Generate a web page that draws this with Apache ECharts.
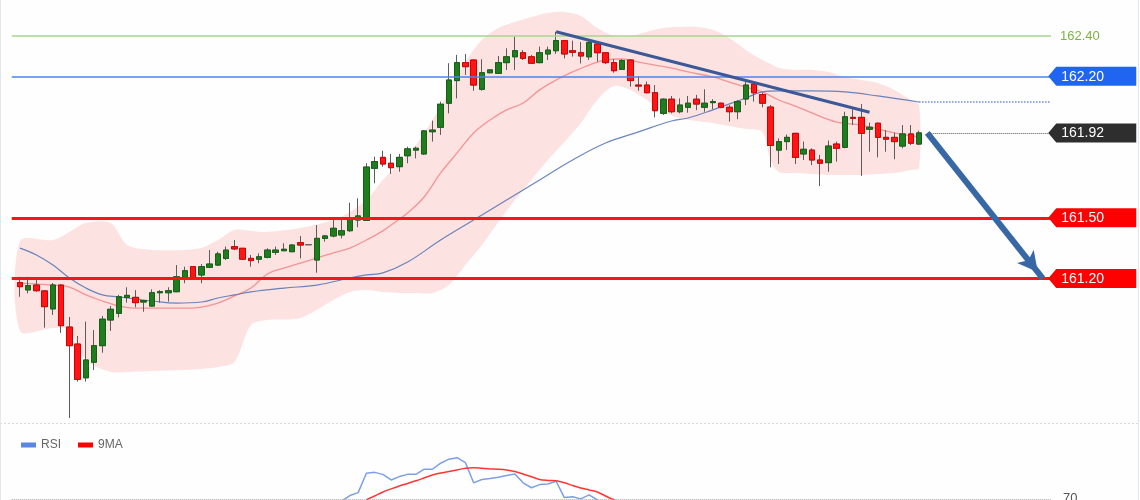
<!DOCTYPE html>
<html>
<head>
<meta charset="utf-8">
<title>Candles with Bollinger band and RSI</title>
<script src="https://cdn.jsdelivr.net/npm/echarts@6.0.0/dist/echarts.min.js"></script>
<style>
  html, body { margin: 0; padding: 0; background: #fefefe; }
  #chart { width: 1140px; height: 500px; }
</style>
</head>
<body>
<div id="chart"></div>
<script>
// ── Data ──────────────────────────────────────────────────────────────────────

// [open, close, low, high], one per bar
const candles = [
  [161.179, 161.159, 161.109, 161.208], [161.143, 161.164, 161.126, 161.208],
  [161.167, 161.139, 161.134, 161.192], [161.138, 161.060, 160.956, 161.142],
  [161.049, 161.167, 161.019, 161.177], [161.167, 160.966, 160.930, 161.172],
  [160.959, 160.867, 160.509, 161.009], [160.875, 160.700, 160.689, 160.915],
  [160.708, 160.796, 160.689, 160.986], [160.785, 160.867, 160.747, 160.944],
  [160.867, 160.998, 160.832, 161.014], [160.994, 161.047, 160.940, 161.063],
  [161.027, 161.109, 161.007, 161.118], [161.106, 161.116, 161.080, 161.156],
  [161.106, 161.080, 161.057, 161.142], [161.083, 161.090, 161.035, 161.093],
  [161.063, 161.129, 161.060, 161.146], [161.129, 161.134, 161.080, 161.142],
  [161.129, 161.139, 161.085, 161.156], [161.134, 161.208, 161.132, 161.266],
  [161.205, 161.238, 161.176, 161.258], [161.258, 161.196, 161.192, 161.261],
  [161.217, 161.258, 161.176, 161.271], [161.255, 161.271, 161.251, 161.340],
  [161.266, 161.321, 161.261, 161.332], [161.299, 161.340, 161.291, 161.357],
  [161.357, 161.346, 161.340, 161.390], [161.349, 161.295, 161.291, 161.350],
  [161.299, 161.288, 161.258, 161.316], [161.295, 161.307, 161.275, 161.324],
  [161.304, 161.340, 161.299, 161.349], [161.329, 161.340, 161.316, 161.357],
  [161.337, 161.344, 161.335, 161.374], [161.332, 161.365, 161.331, 161.370],
  [161.377, 161.365, 161.299, 161.410], [161.367, 161.367, 161.367, 161.367],
  [161.291, 161.398, 161.228, 161.464], [161.398, 161.410, 161.382, 161.415],
  [161.410, 161.448, 161.403, 161.493], [161.415, 161.436, 161.398, 161.489],
  [161.436, 161.493, 161.431, 161.575], [161.489, 161.509, 161.453, 161.596],
  [161.487, 161.751, 161.484, 161.770], [161.745, 161.778, 161.671, 161.802],
  [161.799, 161.766, 161.753, 161.832], [161.770, 161.748, 161.717, 161.816],
  [161.753, 161.799, 161.728, 161.816], [161.807, 161.841, 161.770, 161.852],
  [161.835, 161.844, 161.794, 161.852], [161.816, 161.930, 161.811, 161.934],
  [161.926, 161.934, 161.877, 161.981], [161.948, 162.062, 161.910, 162.075],
  [162.067, 162.182, 162.017, 162.265], [162.179, 162.268, 162.091, 162.306],
  [162.268, 162.248, 162.207, 162.311], [162.281, 162.157, 162.129, 162.283],
  [162.136, 162.218, 162.129, 162.285], [162.218, 162.232, 162.215, 162.234],
  [162.215, 162.268, 162.212, 162.301], [162.268, 162.297, 162.232, 162.339],
  [162.297, 162.327, 162.232, 162.396], [162.317, 162.289, 162.281, 162.330],
  [162.297, 162.265, 162.261, 162.306], [162.268, 162.317, 162.265, 162.347],
  [162.311, 162.330, 162.281, 162.347], [162.327, 162.377, 162.311, 162.421],
  [162.377, 162.311, 162.289, 162.380], [162.327, 162.319, 162.298, 162.377],
  [162.317, 162.301, 162.264, 162.370], [162.297, 162.367, 162.281, 162.378],
  [162.360, 162.317, 162.273, 162.367], [162.317, 162.268, 162.261, 162.320],
  [162.268, 162.228, 162.218, 162.285], [162.235, 162.278, 162.232, 162.285],
  [162.281, 162.179, 162.149, 162.285], [162.157, 162.152, 162.129, 162.202],
  [162.157, 162.119, 162.116, 162.174], [162.119, 162.030, 161.997, 162.157],
  [162.017, 162.087, 162.009, 162.091], [162.087, 162.025, 162.017, 162.103],
  [162.025, 162.058, 162.017, 162.091], [162.047, 162.067, 162.020, 162.103],
  [162.087, 162.063, 162.033, 162.108], [162.047, 162.067, 162.025, 162.136],
  [162.070, 162.075, 162.037, 162.087], [162.067, 162.047, 162.042, 162.070],
  [162.047, 162.025, 161.976, 162.058], [162.025, 162.075, 161.988, 162.083],
  [162.088, 162.157, 162.058, 162.174], [162.162, 162.119, 162.075, 162.174],
  [162.110, 162.067, 162.047, 162.119], [162.048, 161.858, 161.750, 162.058],
  [161.835, 161.877, 161.766, 161.893], [161.877, 161.898, 161.835, 161.912],
  [161.918, 161.799, 161.766, 161.920], [161.816, 161.839, 161.786, 161.877],
  [161.835, 161.786, 161.761, 161.844], [161.786, 161.770, 161.657, 161.811],
  [161.773, 161.855, 161.728, 161.882], [161.865, 161.844, 161.778, 161.877],
  [161.849, 162.000, 161.844, 162.025], [161.997, 161.992, 161.959, 162.037],
  [161.997, 161.918, 161.707, 162.063], [161.938, 161.948, 161.827, 161.971],
  [161.968, 161.898, 161.799, 161.971], [161.898, 161.889, 161.827, 161.934],
  [161.898, 161.877, 161.790, 161.921], [161.855, 161.915, 161.844, 161.959],
  [161.915, 161.869, 161.860, 161.959], [161.865, 161.920, 161.860, 161.931],
];

// Bollinger band edges, read at these bar indices
const bandBars = [0, 4, 6, 8, 11, 13, 16, 20, 22, 24, 26, 28, 30, 34, 38, 40, 42, 44, 46, 48,
  50, 52, 54, 56, 58, 60, 62, 64, 66, 68, 70, 72, 74, 76, 78, 80, 82, 84, 86, 88,
  90, 91, 92, 94, 96, 98, 100, 102, 104, 106, 108, 109];
const bandUpper = [161.385, 161.390, 161.430, 161.474, 161.474, 161.365, 161.341, 161.341, 161.350, 161.390,
  161.440, 161.435, 161.430, 161.449, 161.489, 161.529, 161.588, 161.687, 161.771, 161.860,
  161.984, 162.123, 162.271, 162.380, 162.439, 162.469, 162.494, 162.514, 162.519, 162.499,
  162.439, 162.400, 162.400, 162.420, 162.439, 162.444, 162.444, 162.430, 162.390, 162.331,
  162.281, 162.261, 162.241, 162.232, 162.232, 162.222, 162.197, 162.182, 162.167, 162.133,
  162.083, 162.058];
const bandLower = [160.940, 160.954, 160.945, 160.796, 160.737, 160.737, 160.742, 160.747, 160.752, 160.761,
  160.786, 160.969, 160.994, 161.004, 161.093, 161.133, 161.143, 161.133, 161.128, 161.128,
  161.128, 161.167, 161.266, 161.365, 161.479, 161.588, 161.687, 161.786, 161.875, 161.969,
  162.083, 162.152, 162.133, 162.083, 162.024, 161.994, 161.979, 161.969, 161.954, 161.939,
  161.925, 161.786, 161.727, 161.722, 161.717, 161.712, 161.712, 161.712, 161.717, 161.722,
  161.737, 161.746];

// band middle line (red) and slow average (blue)
const midBars = [0, 4, 6, 8, 10, 12, 14, 20, 22, 24, 26, 28, 30, 32, 34, 36, 38, 40, 42, 44,
  46, 47, 49, 51, 53, 55, 57, 59, 61, 63, 65, 67, 69, 71, 73, 75, 77, 79, 81, 84,
  86, 88, 90, 92, 94, 96, 99, 102, 106, 109];
const midValues = [161.177, 161.167, 161.157, 161.118, 161.088, 161.063, 161.053, 161.053, 161.058, 161.078,
  161.113, 161.152, 161.222, 161.251, 161.276, 161.301, 161.326, 161.350, 161.390, 161.435,
  161.494, 161.524, 161.603, 161.722, 161.821, 161.920, 161.984, 162.034, 162.068, 162.133,
  162.182, 162.222, 162.256, 162.281, 162.286, 162.271, 162.256, 162.241, 162.222, 162.197,
  162.172, 162.147, 162.123, 162.083, 162.053, 162.019, 161.974, 161.959, 161.920, 161.900];
const slowBars = [0, 2, 4, 6, 8, 10, 12, 14, 16, 19, 22, 24, 26, 28, 32, 36, 40, 42, 44, 47,
  51, 55, 59, 63, 67, 71, 75, 79, 81, 84, 88, 90, 92, 96, 100, 104, 109];
const slowValues = [161.350, 161.316, 161.266, 161.202, 161.152, 161.118, 161.108, 161.098, 161.088, 161.078,
  161.083, 161.103, 161.118, 161.133, 161.152, 161.167, 161.202, 161.217, 161.227, 161.281,
  161.390, 161.489, 161.588, 161.687, 161.786, 161.870, 161.925, 161.979, 161.994, 162.034,
  162.093, 162.123, 162.128, 162.128, 162.123, 162.103, 162.073];

// RSI panel (only the part above 70 is in the picture)
const rsiFirstBar = 39;
const rsiValues = [69.0, 71.5, 72.8, 81.5, 81.9, 81.0, 78.5, 80.0, 81.0, 81.0,
  83.3, 83.3, 86.0, 87.8, 88.5, 86.3, 77.2, 78.7, 79.1, 79.7,
  80.5, 81.2, 77.2, 75.0, 76.4, 76.7, 77.9, 70.6, 71.0, 70.0,
  71.8, 69.5, 66.0];
const rsiMaFirstBar = 42;
const rsiMaValues = [69.6, 71.3, 73.1, 74.5, 75.8, 76.9, 78.1, 79.4, 80.7, 81.6,
  82.3, 83.0, 83.7, 84.0, 83.7, 83.4, 83.3, 83.0, 82.3, 81.2,
  79.9, 78.7, 78.3, 78.1, 77.2, 76.0, 74.9, 74.0, 73.1, 71.3,
  69.6, 68.0];
const rsiLevel = 70;

// price levels and annotations
const levelValues = [162.40, 162.20, 161.50, 161.20];
const tagValues   = [162.20, 161.50, 161.20];
const trendFrom   = [65, 162.421];   // [bar, price]
const trendTo     = [103, 162.022];
const arrowFrom   = [110, 161.92];
const arrowTo     = [124, 161.20];

// ── Layout / style ────────────────────────────────────────────────────────────

const LEAD       = 1;     // empty slot before the first bar
const SLOT_COUNT = 137;
const LINE_END   = 125;   // bar index where level lines stop
const TAG_BAR    = 130;   // bar index at the centre of the price tags
const FONT       = '"Liberation Sans", Arial, sans-serif';

const levelColors = ['#a6d68c', '#4a84f0', '#ff1414', '#ff1414'];
const levelWidths = [1.5, 1.5, 3, 3];
const tagColors   = { '162.20': '#2065f2', '161.50': '#ff0000', '161.20': '#ff0000' };
const TAG_PATH    = 'path://M0,9.5L8,0L88,0L88,19L8,19Z';

const slot = i => i + LEAD;
const pairs = (bars, vals) => bars.map((b, j) => [slot(b), vals[j]]);
const runPairs = (first, vals) => vals.map((v, j) => [slot(first + j), v]);

const EMPTY = ['-', '-', '-', '-'];
const wickData = [EMPTY].concat(candles);
const bodyData = [EMPTY].concat(candles.map(([o, c]) => [o, c, Math.min(o, c), Math.max(o, c)]));
const lastClose = candles[candles.length - 1][1];
const slowLast = slowValues[slowValues.length - 1];

// ── Annotations ───────────────────────────────────────────────────────────────

function seg(from, to, lineStyle, extra) {
  return [
    Object.assign({ coord: [slot(from[0]), from[1]], lineStyle }, extra || {}),
    { coord: [slot(to[0]), to[1]] },
  ];
}

const markLines = [];
levelValues.forEach((v, k) => {
  const extra = k === 0 ? {
    label: { show: true, position: 'end', distance: 9, formatter: v.toFixed(2),
             color: '#7cb342', fontSize: 13, fontFamily: FONT },
  } : {};
  markLines.push(seg([-1, v], [LINE_END, v],
    { color: levelColors[k], width: levelWidths[k], type: 'solid' }, extra));
});
markLines.push(seg([109, slowLast], [LINE_END, slowLast],
  { color: '#6b8ad6', width: 1.5, type: 'dotted' }));
markLines.push(seg([110, lastClose], [LINE_END, lastClose],
  { color: '#555', width: 1, type: 'dotted' }));
markLines.push(seg(trendFrom, trendTo, { color: '#3b5996', width: 3, type: 'solid' }));
const arrow = seg(arrowFrom, arrowTo, { color: '#3867a6', width: 6, type: 'solid' });
Object.assign(arrow[1], { symbol: 'arrow', symbolSize: [16, 20], symbolOffset: [0, 8] });
markLines.push(arrow);

const tags = tagValues.concat([lastClose]).map(v => ({
  name: v.toFixed(2),
  coord: [slot(TAG_BAR), v],
  itemStyle: { color: tagColors[v.toFixed(2)] || '#2e2e2e' },
}));

// ── Chart ─────────────────────────────────────────────────────────────────────

const chart = echarts.init(document.getElementById('chart'), null, { renderer: 'canvas' });
const slots = Array.from({ length: SLOT_COUNT }, (_, k) => String(k));

chart.setOption({
  backgroundColor: '#fefefe',
  animation: false,
  legend: {
    data: ['RSI', '9MA'],
    left: 16, top: 434,
    icon: 'rect', itemWidth: 15, itemHeight: 5, itemGap: 17,
    textStyle: { color: '#666', fontSize: 12, fontFamily: FONT },
    selectedMode: false,
  },
  grid: [
    { left: 7.6, right: 2.4, top: 0, height: 420 },
    // only the upper slice of the RSI panel (above ~69.5) fits in the picture
    { left: 7.6, right: 2.4, top: 432, height: 68 },
  ],
  xAxis: [
    { type: 'category', gridIndex: 0, data: slots, show: false, boundaryGap: true },
    { type: 'category', gridIndex: 1, data: slots, show: false, boundaryGap: true },
  ],
  yAxis: [
    { type: 'value', gridIndex: 0, min: 160.499, max: 162.578, show: false, splitLine: { show: false } },
    { type: 'value', gridIndex: 1, min: 69.5, max: 100, show: false, splitLine: { show: false } },
  ],
  graphic: [
    { type: 'line', silent: true, shape: { x1: 0, y1: 423.5, x2: 1140, y2: 423.5 },
      style: { stroke: '#d8d8d8', lineDash: [2, 2] } },
    { type: 'line', silent: true, shape: { x1: 0.5, y1: 0, x2: 0.5, y2: 500 }, style: { stroke: '#e3e8ef' } },
    { type: 'line', silent: true, shape: { x1: 1138.5, y1: 0, x2: 1138.5, y2: 500 }, style: { stroke: '#e3e8ef' } },
  ],
  series: [
    {
      name: 'band',
      type: 'custom',
      xAxisIndex: 0, yAxisIndex: 0,
      silent: true, z: 1,
      data: [[slot(0), bandUpper[0]]],
      renderItem: (params, api) => {
        const up = bandBars.map((b, j) => api.coord([slot(b), bandUpper[j]]));
        const lo = bandBars.map((b, j) => api.coord([slot(b), bandLower[j]])).reverse();
        return {
          type: 'polygon',
          shape: { points: up.concat(lo), smooth: 0.3 },
          style: { fill: '#fde2e2' },
        };
      },
    },
    {
      name: 'mid',
      type: 'line', xAxisIndex: 0, yAxisIndex: 0, z: 2, silent: true,
      data: pairs(midBars, midValues),
      smooth: 0.4, showSymbol: false,
      lineStyle: { color: '#f07a7a', width: 1.3, opacity: 0.75 },
    },
    {
      name: 'slow',
      type: 'line', xAxisIndex: 0, yAxisIndex: 0, z: 2, silent: true,
      data: pairs(slowBars, slowValues),
      smooth: 0.4, showSymbol: false,
      lineStyle: { color: '#4f72b4', width: 1.2, opacity: 0.85 },
    },
    {
      name: 'wicks',
      type: 'candlestick', xAxisIndex: 0, yAxisIndex: 0, z: 3, silent: true,
      data: wickData,
      barWidth: 6,
      itemStyle: {
        color: 'transparent', color0: 'transparent',
        borderColor: '#5c5c5c', borderColor0: '#5c5c5c', borderColorDoji: '#5c5c5c',
        borderWidth: 1,
      },
    },
    {
      name: 'bodies',
      type: 'candlestick', xAxisIndex: 0, yAxisIndex: 0, z: 4, silent: true,
      data: bodyData,
      barWidth: 6,
      itemStyle: {
        color: '#1f7d1f', color0: '#ff1515',
        borderColor: '#166016', borderColor0: '#d40000', borderColorDoji: '#666',
        borderWidth: 1,
      },
      markLine: {
        silent: true, z: 6,
        symbol: ['none', 'none'],
        label: { show: false },
        emphasis: { disabled: true },
        data: markLines,
      },
      markPoint: {
        silent: true, z: 7,
        symbol: TAG_PATH, symbolSize: [88, 19], symbolKeepAspect: false,
        label: {
          show: true, position: [13, 10], verticalAlign: 'middle', align: 'left',
          color: '#fff', fontSize: 14, fontFamily: FONT,
          formatter: p => p.name,
        },
        data: tags,
      },
    },
    {
      name: 'RSI',
      type: 'line', xAxisIndex: 1, yAxisIndex: 1, silent: true,
      data: runPairs(rsiFirstBar, rsiValues),
      showSymbol: false,
      color: '#5b86e5',
      lineStyle: { color: '#7d9fe6', width: 1.5 },
      markLine: {
        silent: true, symbol: ['none', 'none'],
        data: [seg([-1, rsiLevel], [LINE_END, rsiLevel], { color: '#aaa', width: 1, type: 'dotted' })],
        label: { show: true, position: 'end', distance: 12, formatter: String(rsiLevel),
                 color: '#555', fontSize: 13, fontFamily: FONT },
      },
    },
    {
      name: '9MA',
      type: 'line', xAxisIndex: 1, yAxisIndex: 1, silent: true,
      data: runPairs(rsiMaFirstBar, rsiMaValues),
      showSymbol: false, smooth: 0.3,
      color: '#ff0000',
      lineStyle: { color: '#ff3535', width: 1.5 },
    },
  ],
});
</script>
</body>
</html>
